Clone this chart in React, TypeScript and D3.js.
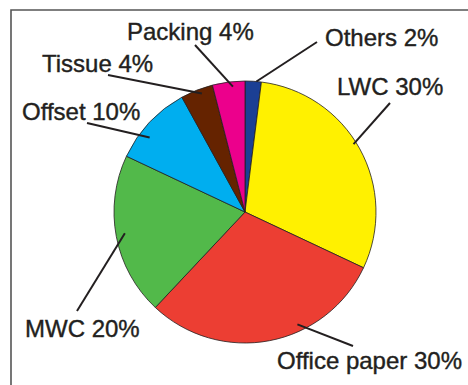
import { useEffect, useRef } from "react";
import * as d3 from "d3";

// paper grades, clockwise from 12 o'clock
const categories = ["Others", "LWC", "Office paper", "MWC", "Offset", "Tissue", "Packing"];
const shares = [2, 30, 30, 20, 10, 4, 4];
const colors = ["#1b3f94", "#fff100", "#ec3e33", "#52b94a", "#00aeef", "#652300", "#ec008c"];

// label placement: text start + baseline, leader outer end, leader inner end (angle in deg, radius)
const labelX = [325, 337, 277, 25, 22, 42, 127];
const labelY = [46, 95, 369, 337, 120, 72, 40];
const leaderOut: [number, number][] = [
  [317, 42], [390, 103], [353, 346], [77, 311], [87, 123], [108, 75], [195, 45],
];
const leaderAngle = [5, 58, 155, 260, 308, 340, 354.5];
const leaderRadius = [131, 128, 124, 122, 121, 126, 126];

const W = 468;
const H = 385;

export default function App() {
  const svgRef = useRef<SVGSVGElement>(null);

  useEffect(() => {
    if (!svgRef.current) return;
    const svg = d3.select(svgRef.current);
    svg.selectAll("*").remove();

    // frame (runs off the right and bottom edge)
    svg
      .append("path")
      .attr("d", `M11,${H + 5}V10H${W + 5}`)
      .attr("fill", "none")
      .attr("stroke", "#555")
      .attr("stroke-width", 1.6);

    const cx = 245;
    const cy = 212;
    const r = 131;

    const data = categories.map((c, i) => ({ name: c, value: shares[i], color: colors[i] }));
    const pie = d3
      .pie<any>()
      .sort(null)
      .value((d) => d.value)
      .startAngle(0)
      .endAngle(2 * Math.PI);
    const arc = d3.arc<any>().innerRadius(0).outerRadius(r);

    const g = svg.append("g").attr("transform", `translate(${cx},${cy})`);
    g.selectAll(".slice")
      .data(pie(data))
      .enter()
      .append("path")
      .attr("class", "slice")
      .attr("d", arc)
      .attr("fill", (d: any) => d.data.color)
      .attr("stroke", "#231f20")
      .attr("stroke-width", 0.8);

    // leaders
    svg
      .selectAll(".leader")
      .data(categories)
      .enter()
      .append("line")
      .attr("class", "leader")
      .attr("x1", (_, i) => cx + leaderRadius[i] * Math.sin((leaderAngle[i] * Math.PI) / 180))
      .attr("y1", (_, i) => cy - leaderRadius[i] * Math.cos((leaderAngle[i] * Math.PI) / 180))
      .attr("x2", (_, i) => leaderOut[i][0])
      .attr("y2", (_, i) => leaderOut[i][1])
      .attr("stroke", "#231f20")
      .attr("stroke-width", 2);

    // slightly heavier than regular, like the print face
    svg
      .selectAll(".label")
      .data(categories)
      .enter()
      .append("text")
      .attr("class", "label")
      .attr("x", (_, i) => labelX[i])
      .attr("y", (_, i) => labelY[i])
      .attr("font-family", "'Liberation Sans', Arial, sans-serif")
      .attr("font-size", "24px")
      .attr("fill", "#231f20")
      .attr("stroke", "#231f20")
      .attr("stroke-width", 0.4)
      .text((d, i) => `${d} ${shares[i]}%`);
  }, []);

  return (
    <svg
      ref={svgRef}
      width={W}
      height={H}
      style={{ position: "absolute", left: 0, top: 0, background: "#fff" }}
    />
  );
}
